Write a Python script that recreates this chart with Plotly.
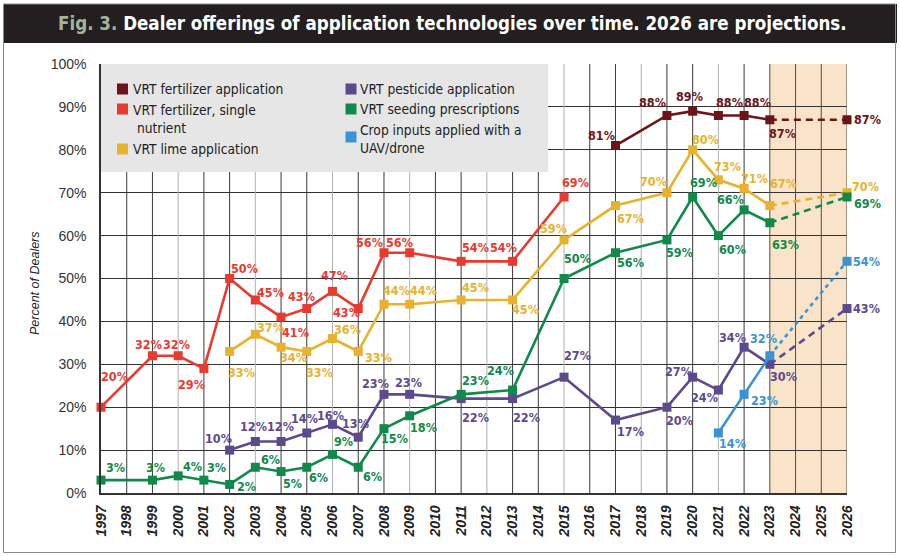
import plotly.graph_objects as go

# ---------------- data ----------------
years_axis = list(range(1997, 2027))
tick_text = [str(y) for y in years_axis]
y_ticks = [0, 10, 20, 30, 40, 50, 60, 70, 80, 90, 100]

fert_years = [2017, 2019, 2020, 2021, 2022, 2023, 2026]
fert_vals = [81, 88, 89, 88, 88, 87, 87]

single_years = [1997, 1999, 2000, 2001, 2002, 2003, 2004, 2005, 2006, 2007, 2008, 2009, 2011, 2013, 2015]
single_vals = [20, 32, 32, 29, 50, 45, 41, 43, 47, 43, 56, 56, 54, 54, 69]

lime_years = [2002, 2003, 2004, 2005, 2006, 2007, 2008, 2009, 2011, 2013, 2015, 2017, 2019, 2020, 2021, 2022, 2023, 2026]
lime_vals = [33, 37, 34, 33, 36, 33, 44, 44, 45, 45, 59, 67, 70, 80, 73, 71, 67, 70]

pest_years = [2002, 2003, 2004, 2005, 2006, 2007, 2008, 2009, 2011, 2013, 2015, 2017, 2019, 2020, 2021, 2022, 2023, 2026]
pest_vals = [10, 12, 12, 14, 16, 13, 23, 23, 22, 22, 27, 17, 20, 27, 24, 34, 30, 43]

seed_years = [1997, 1999, 2000, 2001, 2002, 2003, 2004, 2005, 2006, 2007, 2008, 2009, 2011, 2013, 2015, 2017, 2019, 2020, 2021, 2022, 2023, 2026]
seed_vals = [3, 3, 4, 3, 2, 6, 5, 6, 9, 6, 15, 18, 23, 24, 50, 56, 59, 69, 60, 66, 63, 69]

uav_years = [2021, 2022, 2023, 2026]
uav_vals = [14, 23, 32, 54]

series_names = ["VRT fertilizer application", "VRT fertilizer, single<br> nutrient", "VRT lime application",
                "VRT pesticide application", "VRT seeding prescriptions", "Crop inputs applied with a<br>UAV/drone"]

last_observed = 2023
proj_start = 2023
proj_end = 2026

# ---------------- styles ----------------
NARROW = "DejaVu Sans Condensed, Liberation Sans Narrow, Arial Narrow, sans-serif"
SANS = "Liberation Sans, Arial, sans-serif"

C_FERT = "#6d1418"
C_SINGLE = "#e83a2f"
C_LIME = "#e8b22e"
C_PEST = "#5d4a8c"
C_SEED = "#10894b"
C_UAV = "#3a93d4"

# label offsets (screen px: dx right, dy down)
off_fert = [(-14, -10), (-14, -13), (-3, -15), (11, -13), (13, -13), (13, 14), (20, 0)]
off_single = [(13, -31), (-4, -11), (-2, -11), (-12, 16), (15, -10), (15, -7), (14, 15), (-5, -12),
              (2, -16), (-12, 4), (-14, -10), (-10, -10), (14, -14), (-9, -14), (11, -14)]
off_lime = [(12, 21), (15, -7), (12, 10), (13, 21), (15, -9), (20, 6), (13, -14), (14, -14), (14, -12),
            (13, 10), (-11, -11), (15, 13), (-13, -11), (13, -10), (9, -13), (10, -10), (14, -22), (18, -6)]
off_pest = [(-11, -12), (-2, -15), (-1, -15), (-2, -14), (-2, -9), (-3, -14), (-8, -11), (-1, -12), (14, 19),
            (14, 19), (13, -22), (15, 11), (13, 13), (-14, -6), (-14, 7), (-12, -10), (14, 12), (19, 0)]
off_seed = [(14, -13), (3, -13), (14, -9), (13, -13), (17, 2), (15, -8), (11, 12), (12, 10), (11, -13),
            (14, 9), (11, 10), (14, 12), (14, -14), (-12, -20), (13, -20), (15, 10), (13, 13), (11, -14),
            (14, 14), (-14, -10), (16, 22), (20, 7)]
off_uav = [(14, 11), (20, 6), (-6, -17), (19, 0)]

series = [
    (fert_years, fert_vals, C_FERT, off_fert, "7px,5px"),
    (single_years, single_vals, C_SINGLE, off_single, "7px,5px"),
    (lime_years, lime_vals, C_LIME, off_lime, "7px,5px"),
    (pest_years, pest_vals, C_PEST, off_pest, "7px,5px"),
    (seed_years, seed_vals, C_SEED, off_seed, "7px,5px"),
    (uav_years, uav_vals, C_UAV, off_uav, "4px,4px"),
]

# plot area in px
L, R, T, B = 101, 847, 64, 493
W, H = 900, 556


def px_x(p):
    return (p - L) / (R - L)


def px_y(p):
    return (B - p) / (B - T)


fig = go.Figure()
annotations = []
shapes = []

# projection shading
shapes.append(dict(type="rect", xref="x", yref="y", x0=proj_start, x1=proj_end, y0=0, y1=100,
                   fillcolor="#f9e4c9", line=dict(width=0), layer="below"))

# vertical gridlines
for y in years_axis[1:]:
    if y < proj_start and (y - 1997) % 3 == 0:
        col = "#b0b0b0"
    elif y >= proj_start:
        col = "#5a4a3c"
    else:
        col = "#3a3a3a"
    shapes.append(dict(type="line", xref="x", yref="y", x0=y, x1=y, y0=0, y1=100,
                       line=dict(color=col, width=1), layer="between"))

for yrs, vals, col, offs, dash in series:
    obs_x = [x for x in yrs if x <= last_observed]
    obs_y = [v for x, v in zip(yrs, vals) if x <= last_observed]
    fig.add_trace(go.Scatter(x=obs_x, y=obs_y, mode="lines+markers",
                             line=dict(color=col, width=2.6),
                             marker=dict(symbol="square", size=9, color=col),
                             cliponaxis=False, showlegend=False, hoverinfo="skip"))
    if proj_end in yrs:
        px_ = [x for x in yrs if x >= proj_start]
        py_ = [v for x, v in zip(yrs, vals) if x >= proj_start]
        fig.add_trace(go.Scatter(x=px_, y=py_, mode="lines",
                                 line=dict(color=col, width=2.6, dash=dash),
                                 cliponaxis=False, showlegend=False, hoverinfo="skip"))
        fig.add_trace(go.Scatter(x=[proj_end], y=[py_[-1]], mode="markers",
                                 marker=dict(symbol="square", size=9, color=col),
                                 cliponaxis=False, showlegend=False, hoverinfo="skip"))
    for (x, v), (dx, dy) in zip(zip(yrs, vals), offs):
        annotations.append(dict(x=x, y=v, xref="x", yref="y", text=f"<b>{v}%</b>", showarrow=False,
                                xshift=dx, yshift=-dy, xanchor="center", yanchor="middle",
                                font=dict(family=NARROW, size=12.5, color=col)))

# legend box
shapes.append(dict(type="rect", xref="paper", yref="paper", x0=px_x(101), x1=px_x(548),
                   y0=px_y(172), y1=px_y(64), fillcolor="#e6e6e6", line=dict(width=0), layer="above"))
legend_items = [
    (series_names[0], C_FERT, 122.5, 89, 131, 89),
    (series_names[1], C_SINGLE, 122.5, 109, 131, 119),
    (series_names[2], C_LIME, 122.5, 149, 131, 149),
    (series_names[3], C_PEST, 351, 89, 358, 89),
    (series_names[4], C_SEED, 351, 109, 358, 109),
    (series_names[5], C_UAV, 351, 137, 358, 139),
]
for txt, col, sx, sy, tx, ty in legend_items:
    shapes.append(dict(type="rect", xref="paper", yref="paper", x0=px_x(sx - 5.5), x1=px_x(sx + 5.5),
                       y0=px_y(sy + 5.5), y1=px_y(sy - 5.5), fillcolor=col, line=dict(width=0), layer="above"))
    annotations.append(dict(x=px_x(tx), y=px_y(ty), xref="paper", yref="paper", text=txt, showarrow=False,
                            xanchor="left", yanchor="middle", align="left",
                            font=dict(family=NARROW, size=13.7, color="#222222")))

# title bar
shapes.append(dict(type="rect", xref="paper", yref="paper", x0=px_x(3), x1=px_x(897),
                   y0=px_y(43), y1=px_y(4), fillcolor="#231f20", line=dict(width=0), layer="above"))
shapes.append(dict(type="rect", xref="paper", yref="paper", x0=px_x(3.5), x1=px_x(895.5),
                   y0=px_y(552.5), y1=px_y(4), fillcolor="rgba(0,0,0,0)",
                   line=dict(color="#8a8a8a", width=1), layer="above"))
annotations.append(dict(x=px_x(452), y=px_y(23), xref="paper", yref="paper", showarrow=False,
                        xanchor="center", yanchor="middle",
                        text="<b><span style='color:#a4b39b'>Fig. 3.</span> Dealer offerings of application "
                             "technologies over time. 2026 are projections.</b>",
                        font=dict(family=NARROW, size=18.6, color="#ffffff")))

# y axis title
annotations.append(dict(x=px_x(35), y=px_y(283), xref="paper", yref="paper", showarrow=False,
                        xanchor="center", yanchor="middle",
                        text="<i>Percent of Dealers</i>", textangle=-90,
                        font=dict(family=SANS, size=12.5, color="#222222")))

fig.update_layout(
    width=W, height=H,
    margin=dict(l=L, r=W - R, t=T, b=H - B),
    paper_bgcolor="white", plot_bgcolor="white",
    showlegend=False,
    shapes=shapes, annotations=annotations,
    xaxis=dict(range=[1997, 2026], tickmode="array", tickvals=years_axis, ticktext=tick_text,
               tickangle=-90, showgrid=False, zeroline=False, showline=True, linecolor="#333333",
               linewidth=1.5, ticks="", ticklabelstandoff=5,
               tickfont=dict(family=SANS, size=14, color="#222222", weight="bold", style="italic")),
    yaxis=dict(range=[0, 100], tickmode="array", tickvals=y_ticks, ticktext=[f"{t}%" for t in y_ticks],
               showgrid=True, gridcolor="#333333", gridwidth=1, zeroline=False, showline=True,
               linecolor="#333333", linewidth=1.5, ticks="", ticklabelstandoff=10,
               tickfont=dict(family=SANS, size=14, color="#333333")),
)

fig.write_html("out.html")
